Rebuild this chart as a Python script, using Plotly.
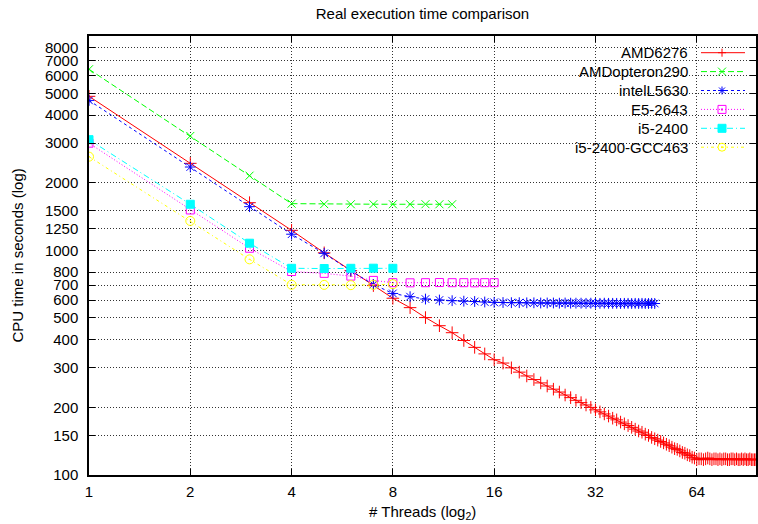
import math
import plotly.graph_objects as go

# ---------------- data ----------------
threads_amd6276 = list(range(1, 97))
amd6276 = [4850, 2440, 1630, 1228, 975, 812, 697, 612,
           556, 502, 462, 430, 397, 370, 346, 326,
           315, 300, 287, 276, 266, 257, 249, 241,
           234, 227, 221, 215, 210, 205, 200, 195,
           191, 187, 183, 179, 176, 172, 169, 166,
           163, 160, 157, 155, 152, 150, 147, 145,
           143, 141, 139, 137, 135, 133, 131, 130,
           128, 126, 125, 123, 122, 120, 119, 117,
           118, 118, 117, 118, 119, 118, 117, 118,
           118, 117, 118, 117, 118, 118, 117, 117,
           118, 118, 117, 118, 117, 117, 118, 117,
           118, 117, 117, 118, 117, 117, 117, 117]

threads_opteron290 = list(range(1, 13))
amdopteron290 = [6400, 3230, 2150, 1614, 1606, 1604, 1605, 1604, 1604, 1605, 1604, 1604]

threads_l5630 = list(range(1, 49))
intell5630 = [4650, 2350, 1565, 1180, 970, 810, 705, 643,
              622, 607, 601, 597, 594, 592, 589, 587,
              586, 585, 585, 584, 584, 583, 583, 583,
              582, 583, 582, 582, 582, 581, 582, 581,
              581, 582, 581, 581, 581, 580, 581, 581,
              580, 581, 580, 581, 580, 580, 581, 580]

threads_e52643 = list(range(1, 17))
e52643 = [3000, 1513, 1022, 805, 790, 768, 735, 718,
          717, 718, 719, 718, 718, 717, 718, 718]

threads_i52400 = list(range(1, 9))
i52400 = [3110, 1604, 1076, 832, 830, 832, 833, 832]

threads_gcc463 = list(range(1, 9))
i52400_gcc463 = [2613, 1352, 912, 703, 702, 700, 702, 707]

x_ticks = [1, 2, 4, 8, 16, 32, 64]
y_ticks = [100, 150, 200, 300, 400, 500, 600, 700, 800, 1000, 1250, 1500,
           2000, 3000, 4000, 5000, 6000, 7000, 8000]

# ---------------- layout geometry ----------------
W, H = 758, 524
L, R, T, B = 89, 2, 36, 49
PW, PH = W - L - R, H - T - B
FONT = "Liberation Sans, Arial, Helvetica, sans-serif"
FS = 15


def px(xp):
    return (xp - L) / PW


def py(yp):
    return (H - B - yp) / PH


series = [
    dict(name="AMD6276", x=threads_amd6276, y=amd6276, color="#ff0000",
         dash="solid", symbol="cross-thin-open", size=9, mk="plus"),
    dict(name="AMDopteron290", x=threads_opteron290, y=amdopteron290, color="#00ff00",
         dash="6px,3px", symbol="x-thin-open", size=8, mk="x"),
    dict(name="intelL5630", x=threads_l5630, y=intell5630, color="#0000ff",
         dash="3px,3px", symbol="asterisk-open", size=9, mk="star"),
    dict(name="E5-2643", x=threads_e52643, y=e52643, color="#ff00ff",
         dash="1px,2px", symbol="square-open", size=8, mk="sqo"),
    dict(name="i5-2400", x=threads_i52400, y=i52400, color="#00ffff",
         dash="6px,3px,1px,3px", symbol="square", size=8, mk="sq"),
    dict(name="i5-2400-GCC463", x=threads_gcc463, y=i52400_gcc463, color="#ffff00",
         dash="3px,3px,1px,3px", symbol="circle-open-dot", size=9, mk="circ"),
]

fig = go.Figure()
for s in series:
    fig.add_trace(go.Scatter(
        x=s["x"], y=s["y"], name=s["name"], mode="lines+markers",
        line=dict(color=s["color"], width=1, dash=s["dash"]),
        marker=dict(symbol=s["symbol"], size=s["size"], color=s["color"],
                    line=dict(color=s["color"], width=1)),
        showlegend=False,
    ))

shapes = []
annotations = []

# legend background (hides grid lines like gnuplot's opaque key)
shapes.append(dict(type="rect", xref="paper", yref="paper",
                   x0=px(564), x1=px(752), y0=py(157), y1=py(40),
                   fillcolor="white", line=dict(width=0), layer="between"))


def marker_shapes(kind, xa, ya, color, r=4):
    c = dict(xref="paper", yref="paper", xsizemode="pixel", ysizemode="pixel",
             xanchor=xa, yanchor=ya, layer="above")
    ln = dict(color=color, width=1)
    out = []
    if kind in ("plus", "star"):
        out.append(dict(type="line", x0=-r, x1=r, y0=0, y1=0, line=ln, **c))
        out.append(dict(type="line", x0=0, x1=0, y0=-r, y1=r, line=ln, **c))
    if kind in ("x", "star"):
        d = r if kind == "x" else r * 0.75
        out.append(dict(type="line", x0=-d, x1=d, y0=-d, y1=d, line=ln, **c))
        out.append(dict(type="line", x0=-d, x1=d, y0=d, y1=-d, line=ln, **c))
    if kind == "sqo":
        out.append(dict(type="rect", x0=-r, x1=r, y0=-r, y1=r, line=ln, **c))
        out.append(dict(type="rect", x0=-1, x1=1, y0=-1, y1=1, line=dict(width=0),
                        fillcolor=color, **c))
    if kind == "sq":
        out.append(dict(type="rect", x0=-r, x1=r, y0=-r, y1=r, line=ln,
                        fillcolor=color, **c))
    if kind == "circ":
        out.append(dict(type="circle", x0=-r, x1=r, y0=-r, y1=r, line=ln, **c))
        out.append(dict(type="circle", x0=-1, x1=1, y0=-1, y1=1, line=dict(width=0),
                        fillcolor=color, **c))
    return out


row0, drow = 52.7, 18.9
for i, s in enumerate(series):
    yy = py(row0 + i * drow)
    annotations.append(dict(text=s["name"], xref="paper", yref="paper",
                            x=px(690), y=yy, xanchor="right", yanchor="middle",
                            showarrow=False, font=dict(family=FONT, size=FS, color="black")))
    shapes.append(dict(type="line", xref="paper", yref="paper",
                       x0=px(701), x1=px(745), y0=yy, y1=yy, layer="above",
                       line=dict(color=s["color"], width=1, dash=s["dash"])))
    shapes.extend(marker_shapes(s["mk"], px(722), yy, s["color"]))

# axis titles
annotations.append(dict(text="# Threads (log<sub>2</sub>)", xref="paper", yref="paper",
                        x=0.5, y=0, yshift=-37, xanchor="center", yanchor="middle",
                        showarrow=False, font=dict(family=FONT, size=FS, color="black")))
annotations.append(dict(text="CPU time in seconds (log)", xref="paper", yref="paper",
                        x=0, y=0.5, xshift=-(L - 17), xanchor="center", yanchor="middle",
                        textangle=-90, showarrow=False,
                        font=dict(family=FONT, size=FS, color="black")))

axis_common = dict(
    type="log", showline=True, linecolor="black", linewidth=1.5, mirror="ticks",
    ticks="inside", ticklen=6, tickcolor="black", tickwidth=1,
    showgrid=True, gridcolor="rgba(0,0,0,0.8)", gridwidth=1, griddash="1px,2px",
    zeroline=False, tickfont=dict(family=FONT, size=FS, color="black"),
)

fig.update_layout(
    width=W, height=H, margin=dict(l=L, r=R, t=T, b=B, autoexpand=False),
    paper_bgcolor="white", plot_bgcolor="white",
    font=dict(family=FONT, size=FS, color="black"),
    title=dict(text="Real execution time comparison", x=0.5, xref="paper", xanchor="center",
               y=1 - 14 / H, yref="container", yanchor="middle",
               font=dict(family=FONT, size=FS, color="black")),
    xaxis=dict(range=[0, math.log10(96)], tickvals=x_ticks,
               ticktext=[str(v) for v in x_ticks], ticklabelstandoff=2, **axis_common),
    yaxis=dict(range=[2, math.log10(9000)], tickvals=y_ticks,
               ticktext=[str(v) for v in y_ticks], ticklabelstandoff=6, **axis_common),
    shapes=shapes, annotations=annotations, showlegend=False,
)

fig.write_html("out.html")
